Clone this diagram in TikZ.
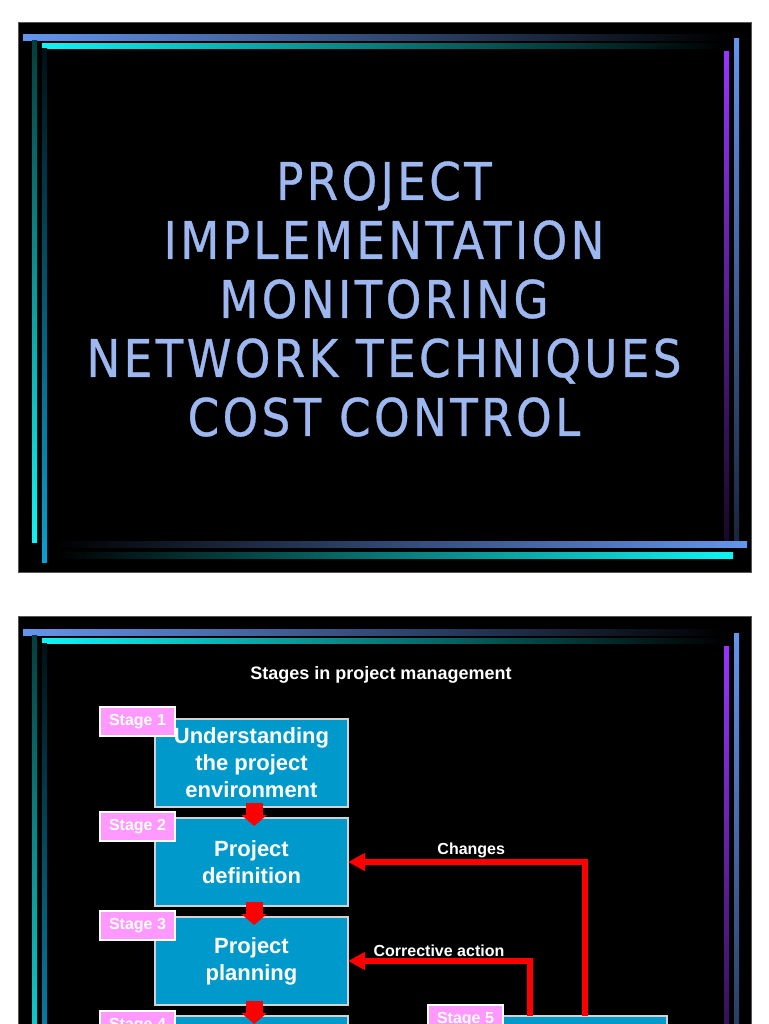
\documentclass[tikz,border=0pt]{standalone}
\usepackage{fontspec}
\setmainfont{Liberation Sans}
\newfontfamily\titlefont[FakeStretch=0.87, LetterSpace=6.5, FakeBold=0.6]{DejaVu Sans}
\usetikzlibrary{arrows.meta, positioning}
\definecolor{slideBlue}{HTML}{6495ED}
\definecolor{slideCyan}{HTML}{10F4F4}
\definecolor{slideSky}{HTML}{0AA0D0}
\definecolor{slidePurple}{HTML}{9933FF}
\definecolor{slideEdge}{HTML}{555555}
\definecolor{titleBlue}{HTML}{9DB8F0}
\definecolor{boxBlue}{HTML}{0099CC}
\definecolor{stagePink}{HTML}{FF99FF}
\definecolor{flowRed}{HTML}{FF0000}

% frame of one slide, shifted down by #1 px
\newcommand{\slideframe}[1]{%
  \begin{scope}[shift={(0,#1)}]
    \filldraw[draw=slideEdge, fill=black, line width=0.6pt] (18,22) rectangle (751,572);
    % top bars
    \shade[left color=slideBlue, middle color=slideBlue!75!black, right color=black] (23,35) rectangle (724,41);
    \shade[left color=slideCyan, middle color=slideCyan!65!black, right color=black] (42,44) rectangle (724,49);
    % left bars
    \shade[top color=slideCyan!25!black, bottom color=slideCyan] (32,41) rectangle (37,542);
    \shade[top color=slideSky!10!black, bottom color=slideSky] (42,49) rectangle (47,562);
    % right bars
    \shade[top color=slidePurple, bottom color=slidePurple!15!black] (724,52) rectangle (729,540);
    \shade[top color=slideBlue, bottom color=slideBlue!25!black] (734,39) rectangle (739,541);
    % bottom bars
    \shade[left color=black, middle color=slideBlue!75!black, right color=slideBlue] (55,541) rectangle (747,547);
    \shade[left color=black, middle color=slideCyan!65!black, right color=slideCyan] (55,552) rectangle (733,558);
  \end{scope}}

\begin{document}
\begin{tikzpicture}[x=0.75pt, y=-0.75pt, node distance=8.25pt,
  every node/.style={font=\bfseries, text=white, inner sep=0pt, outer sep=0pt},
  stagebox/.style={draw=gray!35, line width=0.9pt, fill=boxBlue, minimum width=144.75pt,
    minimum height=66pt, align=center, font=\bfseries\fontsize{16.5}{20.25}\selectfont},
  stagetag/.style={draw=white, line width=0.9pt, fill=stagePink, minimum width=56.25pt,
    minimum height=21.75pt, font=\bfseries\fontsize{12}{14}\selectfont},
  downflow/.style={draw=flowRed, line width=12.75pt, -{Triangle[length=8.25pt, width=18.75pt]}},
  feedback/.style={draw=flowRed, line width=4.5pt, -{Triangle[length=12.75pt, width=12.75pt]}},
  flowlabel/.style={above=3pt, font=\bfseries\fontsize{12}{14}\selectfont}]
  \useasboundingbox (0,0) rectangle (768,1024);
  \clip (0,0) rectangle (768,1024);
  \fill[white] (0,0) rectangle (768,1024);

  % slide 1
  \slideframe{0}
  \node[text=titleBlue, font=\titlefont\fontsize{39}{44.25}\selectfont, align=center] (title) at (384,299)
    {PROJECT\\IMPLEMENTATION\\MONITORING\\NETWORK TECHNIQUES\\COST CONTROL};

  % slide 2
  \slideframe{594}
  \node[font=\bfseries\fontsize{13.5}{16}\selectfont] (heading) at (381,675) {Stages in project management};

  \node[stagebox] (box1) at (251.5,763) {Understanding\\the project\\environment};
  \node[stagebox, below=of box1] (box2) {Project\\definition};
  \node[stagebox, below=of box2] (box3) {Project\\planning};
  \node[stagebox, below=of box3] (box4) {};
  \node[stagebox, minimum width=123pt] (box5) at (585,1060) {};

  \node[stagetag, anchor=north east] (tag1) at ([xshift=15pt, yshift=9pt]box1.north west) {Stage 1};
  \node[stagetag, anchor=north east] (tag2) at ([xshift=15pt, yshift=4.5pt]box2.north west) {Stage 2};
  \node[stagetag, anchor=north east] (tag3) at ([xshift=15pt, yshift=4.5pt]box3.north west) {Stage 3};
  \node[stagetag, anchor=north east] (tag4) at ([xshift=15pt, yshift=3.75pt]box4.north west) {Stage 4};
  \node[stagetag, anchor=north east] (tag5) at ([yshift=8.25pt]box5.north west) {Stage 5};

  \draw[downflow] ([xshift=2pt, yshift=3pt]box1.south) -- ([xshift=2pt, yshift=-6pt]box2.north);
  \draw[downflow] ([xshift=2pt, yshift=3pt]box2.south) -- ([xshift=2pt, yshift=-6pt]box3.north);
  \draw[downflow] ([xshift=2pt, yshift=3pt]box3.south) -- ([xshift=2pt, yshift=-6pt]box4.north);

  \draw[feedback] (box5.north) |- node[flowlabel, pos=0.74] {Changes} (box2.east);
  \draw[feedback] ([xshift=-41.25pt]box5.north) |- node[flowlabel, pos=0.75] {Corrective action} (box3.east);
\end{tikzpicture}
\end{document}
